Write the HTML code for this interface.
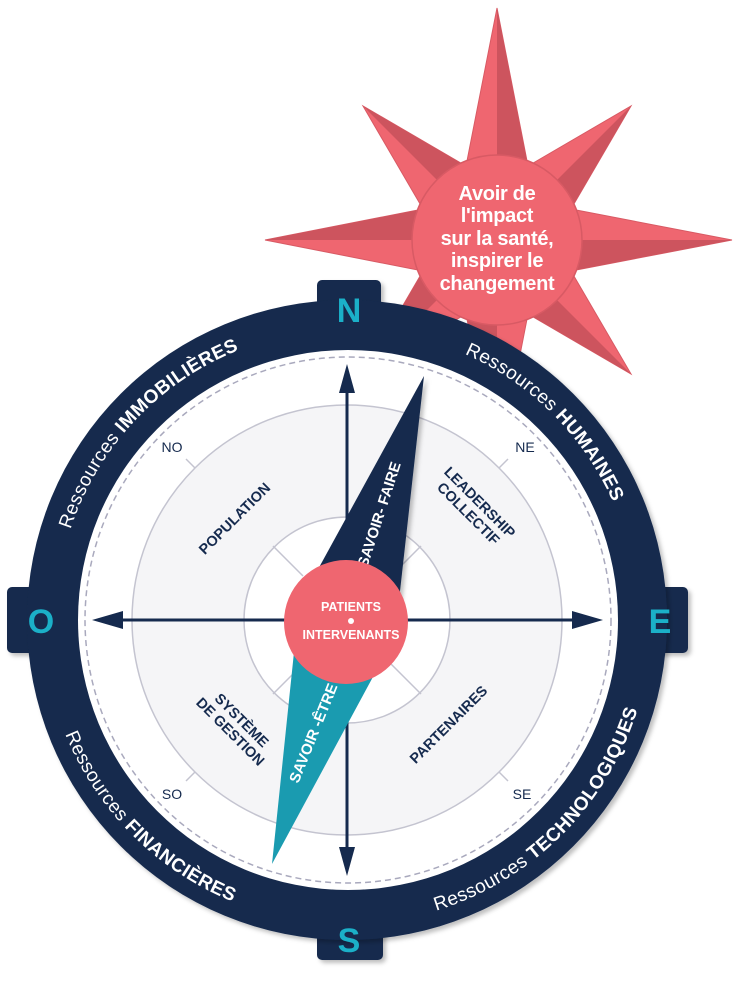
<!DOCTYPE html>
<html><head><meta charset="utf-8"><style>
html,body{margin:0;padding:0;background:#fff;}
svg{display:block;font-family:"Liberation Sans",sans-serif;}
</style></head><body>
<svg width="741" height="1000" viewBox="0 0 741 1000" xmlns="http://www.w3.org/2000/svg">
<defs>
<path id="topArc" d="M 56 620 A 291 291 0 0 1 638 620"/>
<path id="botArc" d="M 43 620 A 304 304 0 0 0 651 620"/>
<filter id="sh" x="-20%" y="-20%" width="150%" height="150%"><feDropShadow dx="3" dy="3" stdDeviation="2" flood-color="#000" flood-opacity="0.25"/></filter>
</defs>
<!-- star -->
<polygon fill="#ef6670" stroke="#d85a64" stroke-width="1" points="732,240 571,271 631,374 528,314 497,472 466,314 363,374 423,271 265,240 423,209 363,106 466,166 497,8 528,166 631,106 571,209"/>
<g fill="#cd545e">
<polygon points="497,240 497,8 528,166"/>
<polygon points="497,240 732,240 571,271"/>
<polygon points="497,240 497,472 466,314"/>
<polygon points="497,240 265,240 423,209"/>
<polygon points="497,240 631,106 571,209"/>
<polygon points="497,240 631,374 528,314"/>
<polygon points="497,240 363,374 423,271"/>
<polygon points="497,240 363,106 466,166"/>
</g>
<circle cx="497" cy="240" r="85" fill="#ef6670" stroke="#d85a64" stroke-width="1.5"/>
<g fill="#fff" font-weight="bold" font-size="20" text-anchor="middle" letter-spacing="-0.3">
<text x="497" y="200">Avoir de</text>
<text x="497" y="222">l'impact</text>
<text x="497" y="245">sur la santé,</text>
<text x="497" y="267">inspirer le</text>
<text x="497" y="290">changement</text>
</g>
<!-- compass boxes -->
<g fill="#152a4e" filter="url(#sh)">
<rect x="317" y="280" width="64" height="50" rx="5"/>
<rect x="317" y="912" width="66" height="48" rx="5"/>
<rect x="7" y="587" width="64" height="66" rx="5"/>
<rect x="624" y="587" width="64" height="66" rx="5"/>
</g>
<circle cx="347" cy="620" r="320" fill="#152a4e" filter="url(#sh)"/>
<circle cx="348" cy="620" r="270" fill="#fff"/>
<circle cx="348" cy="620" r="263" fill="none" stroke="#a9a9bd" stroke-width="1.5" stroke-dasharray="6,4"/>
<circle cx="347" cy="620" r="215" fill="#f5f5f7" stroke="#c4c4d0" stroke-width="1.5"/>
<circle cx="347" cy="620" r="103" fill="#fff" stroke="#c4c4d0" stroke-width="1.5"/>
<g stroke="#c4c4d0" stroke-width="1.5">
<line x1="273" y1="546" x2="303" y2="576"/><line x1="421" y1="546" x2="391" y2="576"/>
<line x1="273" y1="694" x2="303" y2="664"/><line x1="421" y1="694" x2="391" y2="664"/>
<line x1="195" y1="468" x2="186" y2="459"/><line x1="499" y1="468" x2="508" y2="459"/>
<line x1="195" y1="772" x2="186" y2="781"/><line x1="499" y1="772" x2="508" y2="781"/>
</g>
<g fill="#152a4e" font-size="14" text-anchor="middle">
<text x="172" y="452">NO</text><text x="525" y="452">NE</text>
<text x="172" y="799">SO</text><text x="522" y="799">SE</text>
</g>
<!-- letters -->
<g fill="#1bb0c8" font-weight="bold" font-size="34" text-anchor="middle">
<text x="349" y="322">N</text><text x="349" y="952">S</text>
<text x="41" y="633">O</text><text x="660" y="633">E</text>
</g>
<!-- ring texts -->
<g fill="#fff" font-size="19" letter-spacing="0.4">
<text text-anchor="middle"><textPath href="#topArc" startOffset="24%">Ressources <tspan font-weight="bold">IMMOBILIÈRES</tspan></textPath></text>
<text text-anchor="middle"><textPath href="#topArc" startOffset="75%">Ressources <tspan font-weight="bold">HUMAINES</tspan></textPath></text>
<text text-anchor="middle"><textPath href="#botArc" startOffset="25%">Ressources <tspan font-weight="bold">FINANCIÈRES</tspan></textPath></text>
<text text-anchor="middle"><textPath href="#botArc" startOffset="75%">Ressources <tspan font-weight="bold">TECHNOLOGIQUES</tspan></textPath></text>
</g>
<!-- quadrant labels -->
<g fill="#152a4e" font-weight="bold" font-size="14.5" text-anchor="middle">
<text transform="translate(238,522) rotate(-45)">POPULATION</text>
<text transform="translate(472,510) rotate(45)"><tspan x="0" y="-6">LEADERSHIP</tspan><tspan x="0" y="10">COLLECTIF</tspan></text>
<text transform="translate(234,728) rotate(45)"><tspan x="0" y="-6">SYSTÈME</tspan><tspan x="0" y="10">DE GESTION</tspan></text>
<text transform="translate(452,728) rotate(-45)">PARTENAIRES</text>
</g>
<!-- arrows -->
<g stroke="#152a4e" stroke-width="3">
<line x1="347" y1="385" x2="347" y2="855"/>
<line x1="110" y1="620" x2="585" y2="620"/>
</g>
<g fill="#152a4e">
<polygon points="347,364 339,393 355,393"/>
<polygon points="347,876 339,847 355,847"/>
<polygon points="92,620 123,611 123,629"/>
<polygon points="603,620 572,611 572,629"/>
</g>
<!-- needle -->
<polygon points="424,376 395,636 299,604" fill="#152a4e" filter="url(#sh)"/>
<polygon points="272,864 395,636 299,604" fill="#1a9bb0"/>
<g fill="#fff" font-weight="bold" font-size="15" text-anchor="middle">
<text transform="translate(384,516) rotate(-72)">SAVOIR- FAIRE</text>
<text transform="translate(318,735) rotate(-68)">SAVOIR -ÊTRE</text>
</g>
<circle cx="346" cy="622" r="62" fill="#ef6670"/>
<g fill="#fff" font-weight="bold" font-size="12.5" text-anchor="middle">
<text x="351" y="611">PATIENTS</text>
<circle cx="351" cy="621" r="3"/>
<text x="351" y="639">INTERVENANTS</text>
</g>
</svg>
</body></html>
